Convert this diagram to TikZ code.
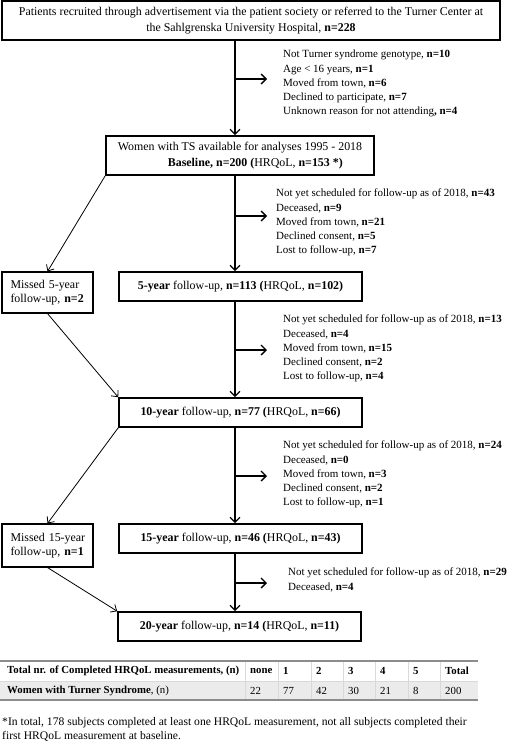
\documentclass[tikz,border=0pt]{standalone}
\usepackage{fontspec}
\setmainfont{Liberation Serif}
\usetikzlibrary{arrows.meta}
\begin{document}
\begin{tikzpicture}[x=1pt,y=-1pt,
  every node/.style={font=\fontsize{11}{14.2}\selectfont},
  boxfont/.style={font=\fontsize{11.9}{15.5}\selectfont},
  mainbox/.style={draw, line width=1.6pt, inner sep=0pt, align=center, boxfont},
  sidebox/.style={draw, line width=1.1pt, inner sep=0pt, align=left, text width=82pt, font=\fontsize{11.9}{13.8}\selectfont},
  listtext/.style={anchor=north west, align=left, inner sep=0pt},
  flow/.style={line width=1.3pt, -{Straight Barb[length=5pt,width=10pt,line width=1.3pt]}},
  diag/.style={line width=0.8pt, -{Straight Barb[length=5pt,width=9pt,line width=0.8pt]}},
  cell/.style={inner sep=0pt, anchor=west, font=\fontsize{10.8}{12}\selectfont},
  tabline/.style={draw=black!45, line width=1.4pt},
  tabsep/.style={draw=black!15, line width=0.8pt}
]
\useasboundingbox (0,0) rectangle (520,744);
\fill[white] (0,0) rectangle (520,744);

% main boxes
\node[mainbox, minimum width=498pt, minimum height=39pt] (top) at (251,20.5)
  {Patients recruited through advertisement via the patient society or referred to the Turner Center at\\
   the Sahlgrenska University Hospital, \textbf{n=228}};
\node[mainbox, minimum width=268pt, minimum height=39pt, align=left] (base) at (240,155.5)
  {Women with TS available for analyses 1995 - 2018\\
   \hspace*{50pt}\textbf{Baseline, n=200 (}HRQoL, \textbf{n=153 *)}};
\node[mainbox, minimum width=243pt, minimum height=29pt] (y5) at (240.5,286.5)
  {\textbf{5-year} follow-up, \textbf{n=113 (}HRQoL, \textbf{n=102)}};
\node[mainbox, minimum width=243pt, minimum height=29pt] (y10) at (240.5,412.5)
  {\textbf{10-year} follow-up, \textbf{n=77 (}HRQoL, \textbf{n=66)}};
\node[mainbox, minimum width=243pt, minimum height=29pt] (y15) at (240.5,538.5)
  {\textbf{15-year} follow-up, \textbf{n=46 (}HRQoL, \textbf{n=43)}};
\node[mainbox, minimum width=243pt, minimum height=29pt] (y20) at (239.5,626.5)
  {\textbf{20-year} follow-up, \textbf{n=14 (}HRQoL, \textbf{n=11)}};

% side boxes
\node[sidebox, minimum width=91pt, minimum height=41pt] (m5) at (47.5,292.5)
  {\hspace*{4pt}Missed 5-year\\ \hspace*{4pt}follow-up, \textbf{n=2}};
\node[sidebox, minimum width=91pt, minimum height=43pt] (m15) at (47.5,545.5)
  {\hspace*{4pt}Missed 15-year\\ \hspace*{4pt}follow-up, \textbf{n=1}};

% exclusion lists
\node[listtext] (l1) at (283,50)
  {Not Turner syndrome genotype, \textbf{n=10}\\
   Age < 16 years, \textbf{n=1}\\
   Moved from town, \textbf{n=6}\\
   Declined to participate, \textbf{n=7}\\
   Unknown reason for not attending\textbf{, n=4}};
\node[listtext] (l2) at (276,189)
  {Not yet scheduled for follow-up as of 2018, \textbf{n=43}\\
   Deceased, \textbf{n=9}\\
   Moved from town, \textbf{n=21}\\
   Declined consent, \textbf{n=5}\\
   Lost to follow-up, \textbf{n=7}};
\node[listtext] (l3) at (283,315)
  {Not yet scheduled for follow-up as of 2018, \textbf{n=13}\\
   Deceased, \textbf{n=4}\\
   Moved from town, \textbf{n=15}\\
   Declined consent, \textbf{n=2}\\
   Lost to follow-up, \textbf{n=4}};
\node[listtext] (l4) at (283,441)
  {Not yet scheduled for follow-up as of 2018, \textbf{n=24}\\
   Deceased, \textbf{n=0}\\
   Moved from town, \textbf{n=3}\\
   Declined consent, \textbf{n=2}\\
   Lost to follow-up, \textbf{n=1}};
\node[listtext] (l5) at (288,568)
  {Not yet scheduled for follow-up as of 2018, \textbf{n=29}\\
   Deceased, \textbf{n=4}};

% main vertical flow
\coordinate (vx) at (235,0);
\draw[flow] (top.south -| vx) -- (base.north -| vx);
\draw[flow] (base.south -| vx) -- (y5.north -| vx);
\draw[flow] (y5.south -| vx) -- (y10.north -| vx);
\draw[flow] (y10.south -| vx) -- (y15.north -| vx);
\draw[flow] (y15.south -| vx) -- (y20.north -| vx);

% branch arrows
\coordinate (b1) at (235,79);   \coordinate (e1) at (267,79);
\coordinate (b2) at (235,216);  \coordinate (e2) at (267,216);
\coordinate (b3) at (235,350);  \coordinate (e3) at (267,350);
\coordinate (b4) at (235,476);  \coordinate (e4) at (267,476);
\coordinate (b5) at (235,583);  \coordinate (e5) at (267,583);
\foreach \i in {1,...,5} \draw[flow] (b\i) -- (e\i);

% diagonals
\draw[diag] (base.south west) -- (m5.north);
\draw[diag] (m5.south) -- (y10.north west);
\draw[diag] (y10.south west) -- (m15.north);
\draw[diag] (m15.south) -- (y20.north west);

% table
\fill[black!8] (0,681) rectangle (478,700);
\foreach \cx in {245,278,311,343,375,408,440}
  \draw[tabsep] (\cx,661) -- (\cx,700);
\draw[tabsep] (0,681) -- (478,681);
\draw[tabline] (0,661) -- (478,661);
\draw[tabline] (0,700) -- (478,700);
\node[cell] (h0) at (7,671) {\textbf{Total nr. of Completed HRQoL measurements, (n)}};
\node[cell] (h1) at (250,671) {\textbf{none}};
\node[cell] (h2) at (283,671) {\textbf{1}};
\node[cell] (h3) at (316,671) {\textbf{2}};
\node[cell] (h4) at (348,671) {\textbf{3}};
\node[cell] (h5) at (380,671) {\textbf{4}};
\node[cell] (h6) at (413,671) {\textbf{5}};
\node[cell] (h7) at (445,671) {\textbf{Total}};
\node[cell] (r0) at (7,690.5) {\textbf{Women with Turner Syndrome}, (n)};
\node[cell] (r1) at (250,690.5) {22};
\node[cell] (r2) at (283,690.5) {77};
\node[cell] (r3) at (316,690.5) {42};
\node[cell] (r4) at (348,690.5) {30};
\node[cell] (r5) at (380,690.5) {21};
\node[cell] (r6) at (413,690.5) {8};
\node[cell] (r7) at (445,690.5) {200};

% footnote
\node[listtext, font=\fontsize{11.6}{14.2}\selectfont] (fn) at (2,717)
  {*In total, 178 subjects completed at least one HRQoL measurement, not all subjects completed their\\
   first HRQoL measurement at baseline.};
\end{tikzpicture}
\end{document}
